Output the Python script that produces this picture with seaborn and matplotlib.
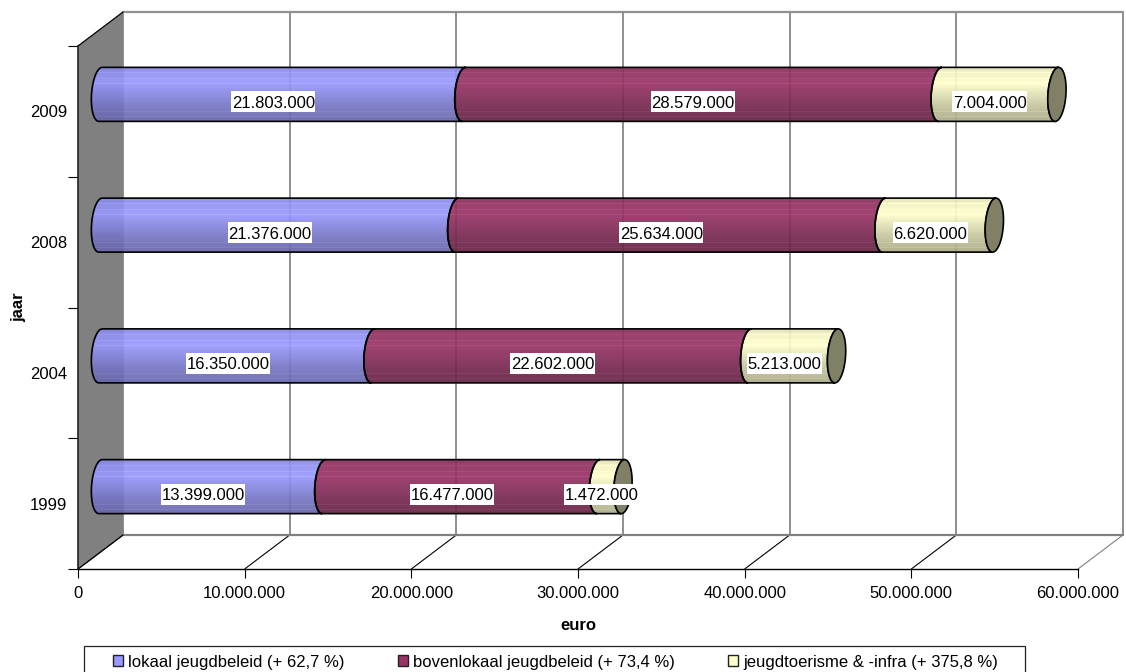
import numpy as np
import pandas as pd
import matplotlib
matplotlib.use("Agg")
import matplotlib.pyplot as plt
import seaborn as sns
from matplotlib.patches import Patch, PathPatch, Polygon, Rectangle
from matplotlib.path import Path
from matplotlib.ticker import FuncFormatter
from matplotlib.transforms import Affine2D, IdentityTransform

# Data
jaar = ["2009", "2008", "2004", "1999"]
lokaal = [21803000, 21376000, 16350000, 13399000]
bovenlokaal = [28579000, 25634000, 22602000, 16477000]
toerisme = [7004000, 6620000, 5213000, 1472000]
legend_labels = ["lokaal jeugdbeleid (+ 62,7 %)",
                 "bovenlokaal jeugdbeleid (+ 73,4 %)",
                 "jeugdtoerisme & -infra (+ 375,8 %)"]
x_ticks = [0, 10000000, 20000000, 30000000, 40000000, 50000000, 60000000]

colors = ["#9999FF", "#993366", "#FFFFCC"]
cap_color = "#808066"


def dotted(v):
    return f"{int(v):,}".replace(",", ".")


# Long table with the running totals, the library draws these as bars
c1 = np.array(lokaal)
c2 = c1 + np.array(bovenlokaal)
c3 = c2 + np.array(toerisme)
df = pd.DataFrame({"jaar": jaar, "c1": c1, "c2": c2, "c3": c3})

sns.set_theme(style="white")
plt.rcParams["font.family"] = ["Liberation Sans", "DejaVu Sans"]

W, H = 1126, 672
fig = plt.figure(figsize=(W / 100, H / 100), dpi=100)
ax = fig.add_axes([78 / W, (H - 569) / H, 1000 / W, 523 / H])

for col, color in zip(["c3", "c2", "c1"], colors[::-1]):
    sns.barplot(data=df, x=col, y="jaar", order=jaar, color=color,
                width=0.413, orient="h", ax=ax, saturation=1)

ax.set_autoscale_on(False)
ax.set_xlim(0, 60000000)
ax.set_ylim(3.5, -0.5)

# Depth of the fake 3D box, in pixels
DX, DY = 45, 34
back = ax.transData + Affine2D().translate(DX, DY)
mid = ax.transData + Affine2D().translate(DX / 2, DY / 2)

# Back wall, grid and floor
for v in x_ticks:
    ax.plot([v, v], [3.5, -0.5], color="#707070", lw=1.1, transform=back,
            clip_on=False, zorder=1)
    if v == x_ticks[-1]:
        floor_color = "#808080"
    else:
        floor_color = "black"
    p0 = ax.transData.transform((v, 3.5))
    ax.plot([p0[0], p0[0] + DX], [p0[1], p0[1] + DY], color=floor_color, lw=0.8,
            transform=IdentityTransform(), clip_on=False, zorder=1)
ax.plot([0, 60000000], [3.5, 3.5], color="#808080", lw=1.6, transform=back,
        clip_on=False, zorder=1)
ax.plot([0, 60000000], [-0.5, -0.5], color="#909090", lw=1.6, transform=back,
        clip_on=False, zorder=1)

# Grey side wall
a = ax.transData.transform((0, 3.5))
b = ax.transData.transform((0, -0.5))
wall = Polygon([a, b, b + (DX, DY), a + (DX, DY)], closed=True, facecolor="#808080",
               edgecolor="none", transform=IdentityTransform(), clip_on=False, zorder=1.5)
ax.add_patch(wall)
ax.plot([b[0], b[0] + DX], [b[1], b[1] + DY], color="black", lw=0.9,
        transform=IdentityTransform(), clip_on=False, zorder=1.6)
ax.plot([a[0], a[0] + DX], [a[1], a[1] + DY], color="black", lw=0.9,
        transform=IdentityTransform(), clip_on=False, zorder=1.6)


def arc(xc, yc, ry, rx=9.0, tilt=1.7, start=90, stop=270, n=40):
    t = np.radians(np.linspace(start, stop, n))
    return np.column_stack([xc + rx * np.cos(t) + tilt * np.sin(t), yc + ry * np.sin(t)])


def shade_rows(color, n):
    # Vertical shading of the cylinder with the light streaks of the original
    t = np.linspace(0, 1, n)
    shade = np.interp(t, [0, 0.1, 0.3, 0.65, 1], [0.86, 0.95, 1.0, 0.8, 0.66])
    rgb = np.array(matplotlib.colors.to_rgb(color))
    rows = np.outer(shade, rgb)
    for lo, hi in [(0.1, 0.13), (0.2, 0.22), (0.3, 0.32), (0.82, 0.84), (0.89, 0.91)]:
        rows[(t >= lo) & (t <= hi)] += 0.04
    return np.clip(rows, 0, 1)[:, None, :]


# Replace the flat bars by cylinder pieces, positions come from the bars
rects = {col: cont for col, cont in zip(["c3", "c2", "c1"], ax.containers)}
for cont in ax.containers:
    for r in cont:
        r.set_visible(False)

order = ["c1", "c2", "c3"]
for i in range(len(jaar)):
    start = 0.0
    for k, col in enumerate(order):
        r = rects[col][i]
        end = r.get_width()
        yc_data = r.get_y() + r.get_height() / 2
        x0, yc = mid.transform((start, yc_data))
        x1, _ = mid.transform((end, yc_data))
        _, ytop = mid.transform((end, r.get_y()))
        _, ybot = mid.transform((end, r.get_y() + r.get_height()))
        ry = abs(ytop - ybot) / 2
        left = arc(x0, yc, ry)
        right = arc(x1, yc, ry)[::-1]
        verts = np.vstack([left, right, left[:1]])
        piece = PathPatch(Path(verts, closed=False), facecolor="none", edgecolor="black",
                          lw=1.2, transform=IdentityTransform(), zorder=3.2)
        ax.add_patch(piece)
        im = ax.imshow(shade_rows(colors[k], int(2 * ry)), aspect="auto", origin="upper",
                       extent=(x0 - 12, x1 + 12, yc - ry - 1, yc + ry + 1),
                       transform=IdentityTransform(), interpolation="nearest",
                       alpha=0.92, zorder=3)
        im.set_clip_path(piece)
        start = end
    cap = arc(x1, yc, ry, start=0, stop=360, n=80)
    ax.add_patch(Polygon(cap, closed=True, facecolor=cap_color, edgecolor="black", lw=1.2,
                         transform=IdentityTransform(), zorder=3.4))

ax.set_xlim(0, 60000000)
ax.set_ylim(3.5, -0.5)

# Value labels on white boxes, centred on the front plane and moved into the bar
renderer = fig.canvas.get_renderer()
for i in range(len(jaar)):
    start = 0
    for vals in [lokaal, bovenlokaal, toerisme]:
        label = ax.annotate(dotted(vals[i]), xy=(start + vals[i] / 2, i), xytext=(13.5, 3.5),
                            textcoords="offset pixels", ha="center", va="baseline", fontsize=12,
                            color="black", zorder=5, annotation_clip=False)
        px, py = ax.transData.transform((start + vals[i] / 2, i))
        box_w = label.get_window_extent(renderer).width + 1
        ax.add_patch(Rectangle((px + 13.5 - box_w / 2, py + 9.5 - 10.4), box_w, 20.8,
                               facecolor="white", edgecolor="none",
                               transform=IdentityTransform(), clip_on=False, zorder=4.9))
        start += vals[i]

# Axes
for s in ["top", "right"]:
    ax.spines[s].set_visible(False)
ax.spines["left"].set_color("#222222")
ax.spines["left"].set_linewidth(1.2)
ax.spines["bottom"].set_color("black")
ax.spines["bottom"].set_linewidth(1.0)
ax.spines["left"].set_zorder(2)
ax.spines["bottom"].set_zorder(2)

ax.set_xticks(x_ticks)
ax.xaxis.set_major_formatter(FuncFormatter(lambda v, pos: dotted(v)))
ax.set_yticks(range(len(jaar)))
ax.set_yticklabels(jaar)
ax.set_yticks(np.arange(-0.5, 4), minor=True)
ax.tick_params(axis="x", bottom=True, length=6.5, width=0.8, color="black", labelsize=12,
               labelcolor="black", pad=6)
ax.tick_params(axis="y", which="major", left=False, length=0, labelsize=12, labelcolor="black", pad=8)
ax.tick_params(axis="y", which="minor", left=True, length=7, width=0.8, color="black")

ax.set_xlabel("euro", fontsize=12, fontweight="bold", color="black", va="center")
ax.set_ylabel("jaar", fontsize=12, fontweight="bold", color="black", va="center")
ax.xaxis.set_label_coords(0.5, (569 - 625) / 523)
ax.yaxis.set_label_coords((19 - 78) / 1000, 0.5)

# Legend, the frame runs off the bottom of the picture
fig.add_artist(Rectangle((84, -10), 941, H - 646 + 10, facecolor="white", edgecolor="#222222",
                         lw=0.9, transform=IdentityTransform(), clip_on=False))
handles = [Patch(facecolor=c, edgecolor="#222222", lw=1.0) for c in colors]
fig.legend(handles, legend_labels, ncol=3, loc="center left", frameon=False,
           bbox_to_anchor=(113 / W, (H - 662) / H), borderpad=0, borderaxespad=0,
           fontsize=12, handlelength=0.6, handleheight=0.6, handletextpad=0.3,
           columnspacing=3.2, labelcolor="black")

fig.savefig("out.png", dpi=100)
